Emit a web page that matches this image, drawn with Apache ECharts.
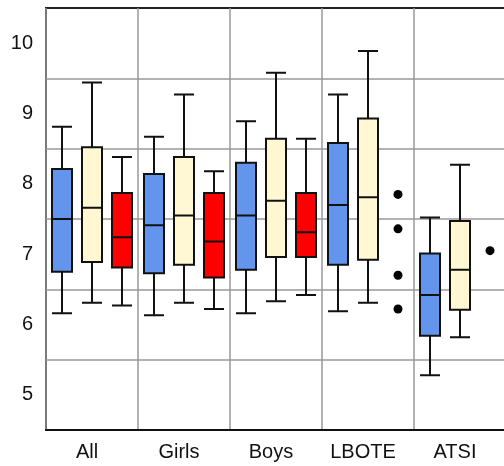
<!DOCTYPE html>
<html>
<head>
<meta charset="utf-8">
<script src="https://cdn.jsdelivr.net/npm/echarts@6/dist/echarts.min.js"></script>
<style>
  html, body { margin: 0; padding: 0; background: #fff; }
  #chart { width: 504px; height: 466px; }
</style>
</head>
<body>
<div id="chart"></div>
<script>
// categories on the x axis
var categories = ['All', 'Girls', 'Boys', 'LBOTE', 'ATSI']
// y axis labels
var yLabels = [5, 6, 7, 8, 9, 10]

// box data: [low whisker, Q1, median, Q3, high whisker]
var blueBoxes = [
  [6.16, 6.75, 7.50, 8.21, 8.81],
  [6.13, 6.73, 7.41, 8.14, 8.67],
  [6.16, 6.78, 7.55, 8.30, 8.89],
  [6.19, 6.85, 7.70, 8.58, 9.27],
  [5.28, 5.84, 6.42, 7.01, 7.52]
]
var creamBoxes = [
  [6.31, 6.89, 7.66, 8.52, 9.44],
  [6.31, 6.85, 7.55, 8.38, 9.27],
  [6.33, 6.96, 7.76, 8.64, 9.58],
  [6.31, 6.92, 7.81, 8.93, 9.89],
  [5.82, 6.21, 6.78, 7.47, 8.27]
]
var redBoxes = [
  [6.27, 6.81, 7.24, 7.87, 8.38],
  [6.22, 6.67, 7.18, 7.87, 8.18],
  [6.42, 6.96, 7.31, 7.87, 8.64]
]
// outlier dots (red group only)
var redOutliers = [
  ['LBOTE', 7.85],
  ['LBOTE', 7.36],
  ['LBOTE', 6.70],
  ['LBOTE', 6.22],
  ['ATSI', 7.05]
]

const myChart = echarts.init(document.getElementById('chart'))
const font = 'Liberation Sans, Arial, sans-serif'
const boxLine = { borderColor: '#111', borderWidth: 2 }

// three grids, shifted by 30px, one per group, so the boxes sit side by side
const gridBase = { top: 8, bottom: 36, width: 460, outerBoundsMode: 'none', containLabel: false }
const hiddenX = (i) => ({ type: 'category', gridIndex: i, data: categories, show: false })
const hiddenY = (i) => ({ type: 'value', gridIndex: i, min: 4.5, max: 10.5, show: false })

const boxSeries = (name, idx, data, color) => ({
  name: name,
  type: 'boxplot',
  xAxisIndex: idx,
  yAxisIndex: idx,
  boxWidth: [20, 20],
  data: data,
  silent: true,
  itemStyle: Object.assign({ color: color }, boxLine),
  emphasis: { disabled: true }
})

const option = {
  animation: false,
  backgroundColor: '#fff',
  textStyle: { fontFamily: font },
  grid: [
    Object.assign({ left: 16 }, gridBase),
    Object.assign({ left: 46, show: true, borderColor: '#222', borderWidth: 2, backgroundColor: 'transparent' }, gridBase),
    Object.assign({ left: 76 }, gridBase)
  ],
  xAxis: [
    hiddenX(0),
    {
      type: 'category',
      gridIndex: 1,
      data: categories,
      axisLine: { lineStyle: { color: '#111', width: 2 } },
      axisTick: { show: false },
      axisLabel: { interval: 0, fontSize: 20, color: '#111', margin: 12, padding: [0, 10, 0, 0], fontFamily: font },
      splitLine: { show: true, interval: 0, lineStyle: { color: '#999', width: 1.5 } }
    },
    hiddenX(2)
  ],
  yAxis: [
    hiddenY(0),
    {
      // labels at whole numbers
      type: 'value',
      gridIndex: 1,
      min: 4.5,
      max: 10.5,
      interval: 0.5,
      axisLine: { show: false },
      axisTick: { show: false },
      splitLine: { show: false },
      axisLabel: {
        fontSize: 20,
        color: '#111',
        margin: 13,
        fontFamily: font,
        formatter: function (v) {
          return yLabels.indexOf(v) >= 0 ? String(v) : ''
        }
      }
    },
    hiddenY(2),
    {
      // grid lines and ticks half way between labels
      type: 'value',
      gridIndex: 1,
      min: 0,
      max: 6,
      interval: 1,
      axisLabel: { show: false },
      axisLine: { show: true, lineStyle: { color: '#111', width: 2 } },
      axisTick: { show: true, length: 9, customValues: [0, 1, 2, 3, 4, 5], lineStyle: { color: '#111', width: 2 } },
      splitLine: { show: true, lineStyle: { color: '#999', width: 1.5 } }
    }
  ],
  series: [
    boxSeries('blue', 0, blueBoxes, '#6495ED'),
    boxSeries('cream', 1, creamBoxes, '#FFF8D2'),
    boxSeries('red', 2, redBoxes, '#FF0000'),
    {
      name: 'outliers',
      type: 'scatter',
      xAxisIndex: 2,
      yAxisIndex: 2,
      symbolSize: 9,
      silent: true,
      itemStyle: { color: '#000', opacity: 1 },
      data: redOutliers
    }
  ]
}
myChart.setOption(option)
</script>
</body>
</html>
